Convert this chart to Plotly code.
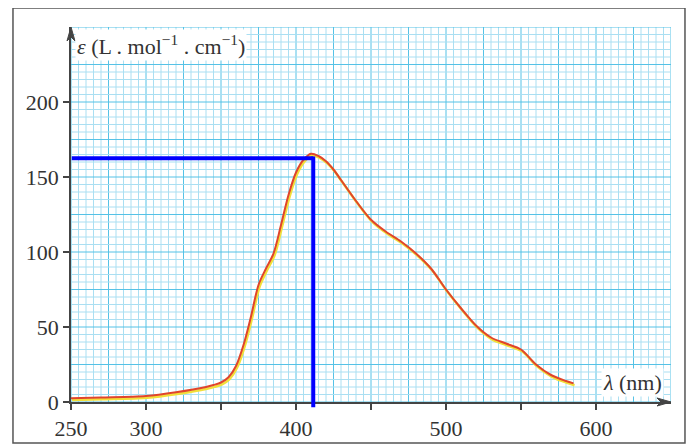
import plotly.graph_objects as go

# absorption spectrum
wavelength = [250, 270, 300, 320, 340, 345, 350, 355, 360, 365, 370, 375, 380,
              385, 390, 395, 400, 405, 410, 415, 420, 425, 430, 440, 450, 460, 470, 480, 490,
              500, 510, 520, 530, 540, 550, 560, 570, 580, 585]
epsilon = [2.5, 3, 4, 6.5, 10, 11.3, 13, 16.5, 24, 38, 57, 78, 89,
           99, 118, 138, 153, 161.5, 165.5, 164, 160.5, 155, 148, 134, 121.5, 113.5, 107, 99, 89,
           75, 62.5, 51, 43, 39, 35, 25, 18, 14, 12.4]

# lambda max construction lines
lambda_max = 411.5
eps_max = 162.5

x_labelled = [250, 300, 400, 500, 600]
x_unlabelled = [350, 450, 550]
y_labelled = [0, 50, 100, 150, 200]

font = 'Liberation Serif'
major_grid = '#55c2e6'
minor_grid = '#aadff2'
axis_col = '#444444'

fig = go.Figure()

# yellow shadow under the red curve
fig.add_trace(go.Scatter(x=[w + 0.7 for w in wavelength], y=[e - 1.2 for e in epsilon], mode='lines',
                         line=dict(color='#f2df3a', width=2.5, shape='spline', smoothing=0.9),
                         hoverinfo='skip', showlegend=False))
fig.add_trace(go.Scatter(x=wavelength, y=epsilon, mode='lines',
                         line=dict(color='#e0452c', width=2, shape='spline', smoothing=0.9),
                         showlegend=False))

shapes = []
# graph paper: fine lines every 5, stronger every 25
for v in range(250, 651, 5):
    strong = (v - 250) % 25 == 0
    shapes.append(dict(type='line', xref='x', yref='y', x0=v, x1=v, y0=0, y1=250, layer='below',
                       line=dict(color=major_grid if strong else minor_grid, width=1)))
for v in range(0, 251, 5):
    strong = v % 25 == 0
    shapes.append(dict(type='line', xref='x', yref='y', x0=250, x1=650, y0=v, y1=v, layer='below',
                       line=dict(color=major_grid if strong else minor_grid, width=1)))

# blue lines marking the maximum
shapes.append(dict(type='line', xref='x', yref='y', x0=250.5, x1=lambda_max, y0=eps_max, y1=eps_max,
                   line=dict(color='#0000ff', width=4)))
shapes.append(dict(type='line', xref='x', yref='paper', x0=lambda_max, x1=lambda_max,
                   y0=-0.014, y1=eps_max / 250 + 0.005,
                   line=dict(color='#0000ff', width=4)))

# axis arrowheads (plot area is 600 x 375 px)
shapes.append(dict(type='path', xref='paper', yref='paper',
                   path='M 1.0,0 L %f,%f L %f,0 L %f,%f Z' % (1 - 14 / 600, 4 / 375, 1 - 10 / 600, 1 - 14 / 600, -4 / 375),
                   fillcolor=axis_col, line=dict(color=axis_col, width=1)))
shapes.append(dict(type='path', xref='paper', yref='paper',
                   path='M 0,1.0 L %f,%f L 0,%f L %f,%f Z' % (-4 / 600, 1 - 14 / 375, 1 - 10 / 375, 4 / 600, 1 - 14 / 375),
                   fillcolor=axis_col, line=dict(color=axis_col, width=1)))

# outer frame
shapes.append(dict(type='rect', xref='paper', yref='paper', x0=-0.0967, x1=1.0233,
                   y0=-0.1093, y1=1.0507, line=dict(color='#555555', width=1.5)))

# page body has an 8px margin, so the figure is 8px smaller on each side
fig.update_layout(
    width=686, height=438,
    margin=dict(l=63, r=23, t=19, b=44),
    paper_bgcolor='white', plot_bgcolor='white',
    font=dict(family=font, size=22, color='#333333'),
    shapes=shapes,
    xaxis=dict(range=[250, 650], tickmode='array', tickvals=x_labelled, automargin=False,
               ticks='outside', ticklen=6, tickwidth=1.5, tickcolor=axis_col,
               showline=True, linecolor=axis_col, linewidth=1.5,
               showgrid=False, zeroline=False,
               minor=dict(tickmode='array', tickvals=x_unlabelled, ticks='outside', ticklen=6,
                          tickwidth=1.5, tickcolor=axis_col, showgrid=False)),
    yaxis=dict(range=[0, 250], tickmode='array', tickvals=y_labelled, automargin=False,
               ticks='outside', ticklen=6, tickwidth=1.5, tickcolor=axis_col,
               showline=True, linecolor=axis_col, linewidth=1.5,
               showgrid=False, zeroline=False),
    annotations=[
        dict(x=0.007, y=0.952, xref='paper', yref='paper', xanchor='left', yanchor='middle',
             text='<i>ε</i> (L . mol<sup>−1</sup> . cm<sup>−1</sup>)', showarrow=False,
             bgcolor='white', font=dict(family=font, size=22, color='#333333')),
        dict(x=0.935, y=0.053, xref='paper', yref='paper', xanchor='center', yanchor='middle',
             text='<i>λ</i> (nm)', showarrow=False,
             bgcolor='white', font=dict(family=font, size=22, color='#333333')),
    ],
)

fig.write_html('out.html')
